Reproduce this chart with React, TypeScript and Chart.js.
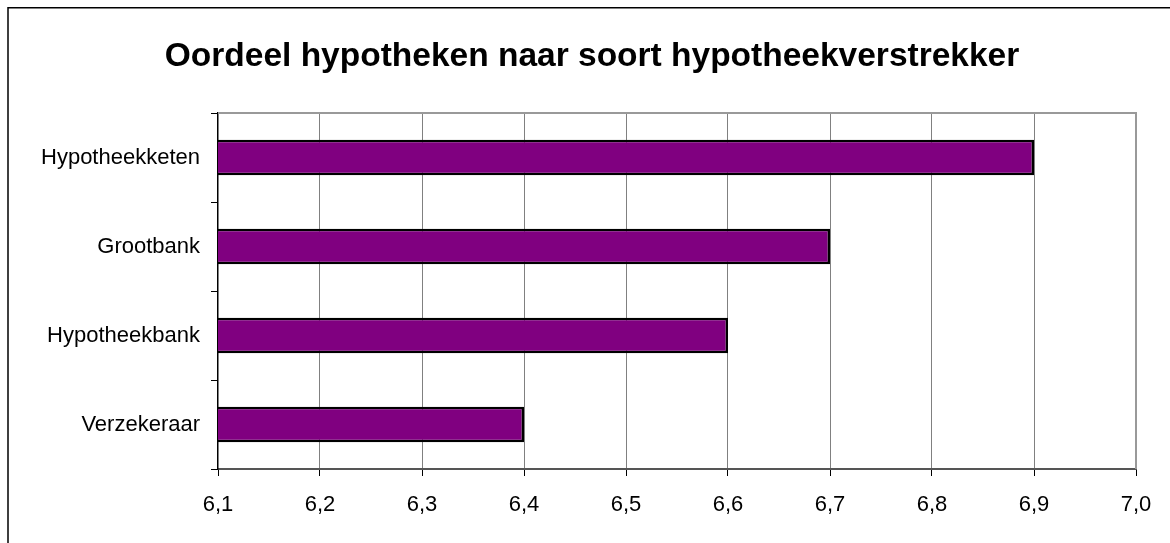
import React, { useEffect, useRef } from "react";
import { Chart, registerables } from "chart.js";

Chart.register(...registerables);

const TITLE = "Oordeel hypotheken naar soort hypotheekverstrekker";
const categories = ["Hypotheekketen", "Grootbank", "Hypotheekbank", "Verzekeraar"];
const scores = [6.9, 6.7, 6.6, 6.4];
const xMin = 6.1;
const xMax = 7.0;
const xStep = 0.1;

const FONT = '"Liberation Sans", Arial, sans-serif';

const framePlugin = {
  id: "frame",
  beforeDraw(chart: any) {
    const ctx = chart.ctx;
    ctx.save();
    ctx.strokeStyle = "#000";
    ctx.lineWidth = 1.5;
    ctx.beginPath();
    ctx.moveTo(8, chart.height);
    ctx.lineTo(8, 7.75);
    ctx.lineTo(chart.width, 7.75);
    ctx.stroke();
    ctx.restore();
  },
  afterDatasetsDraw(chart: any) {
    const { ctx, chartArea } = chart;
    ctx.save();
    ctx.strokeStyle = "#999";
    ctx.lineWidth = 2;
    ctx.beginPath();
    ctx.moveTo(chartArea.left, chartArea.top);
    ctx.lineTo(chartArea.right, chartArea.top);
    ctx.lineTo(chartArea.right, chartArea.bottom);
    ctx.stroke();
    ctx.restore();
  },
};

export default function App() {
  const ref = useRef<HTMLCanvasElement | null>(null);
  useEffect(() => {
    if (!ref.current) return;
    const chart = new Chart(ref.current, {
      type: "bar",
      data: {
        labels: categories,
        datasets: [
          {
            label: "Oordeel",
            data: scores,
            backgroundColor: "#800080",
            borderColor: "#000",
            borderWidth: 2.5,
            borderSkipped: false,
            barPercentage: 0.4,
            categoryPercentage: 1,
          },
        ],
      },
      plugins: [framePlugin],
      options: {
        indexAxis: "y",
        responsive: false,
        animation: false,
        layout: { padding: { left: 14, right: 0, top: 0, bottom: 0 } },
        plugins: {
          legend: { display: false },
          tooltip: { enabled: false },
          title: {
            display: true,
            text: TITLE,
            color: "#000",
            font: { family: FONT, size: 33.5, weight: "bold", lineHeight: 1.2 },
            padding: { top: 36.6, bottom: 36.2 },
          },
        },
        scales: {
          x: {
            type: "linear",
            position: "bottom",
            min: xMin,
            max: xMax,
            afterFit: (s: any) => {
              s.height = 74;
            },
            ticks: {
              stepSize: xStep,
              color: "#000",
              font: { family: FONT, size: 22 },
              padding: 16,
              callback: (v: any) => Number(v).toFixed(1).replace(".", ","),
            },
            grid: {
              color: (c: any) => (c.index === 0 ? "rgba(0,0,0,0)" : "#808080"),
              lineWidth: 1,
              tickColor: "#000",
              tickLength: 7,
            },
            border: { color: "#555", width: 2 },
          },
          y: {
            type: "category",
            position: "left",
            afterFit: (s: any) => {
              s.width = 204;
            },
            ticks: {
              color: "#000",
              font: { family: FONT, size: 22 },
              padding: 11,
            },
            grid: {
              offset: true,
              drawOnChartArea: false,
              tickColor: "#000",
              tickLength: 7,
              lineWidth: 1,
            },
            border: { color: "#000", width: 1.5 },
          },
          yR: {
            type: "linear",
            position: "right",
            display: true,
            afterFit: (s: any) => {
              s.width = 34;
            },
            ticks: { display: false },
            grid: { display: false },
            border: { display: false },
          },
        },
      },
    } as any);
    return () => chart.destroy();
  }, []);
  return (
    <div style={{ position: "absolute", left: 0, top: 0, width: 1170, height: 543, background: "#fff" }}>
      <canvas ref={ref} width={1170} height={543} style={{ display: "block" }} />
    </div>
  );
}
